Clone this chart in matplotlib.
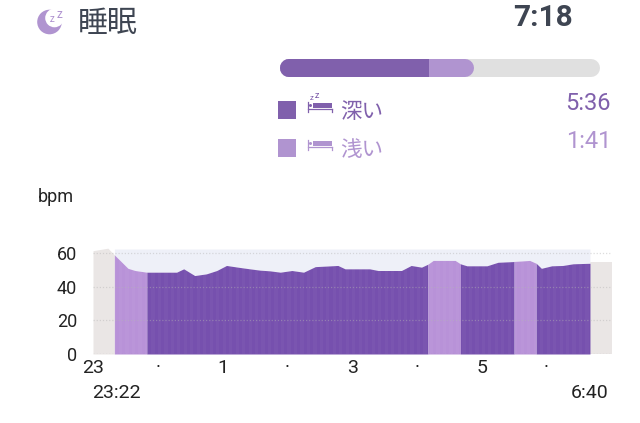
import numpy as np
import matplotlib
matplotlib.use('Agg')
import matplotlib.pyplot as plt
from matplotlib.patches import Circle, Rectangle

# heart rate (hours after 23:00, bpm)
hours = [0.33, 0.54, 0.65, 0.83, 1.29, 1.40, 1.57, 1.75, 1.91, 2.06, 2.27, 2.42, 2.58, 2.73,
         2.89, 3.07, 3.25, 3.43, 3.78, 3.89, 4.27, 4.40, 4.76, 4.91, 5.07, 5.17, 5.25, 5.59,
         5.67, 5.77, 6.08, 6.25, 6.48, 6.50, 6.74, 6.84, 6.92, 7.08, 7.25, 7.41, 7.67]
bpm = [59, 51, 49.7, 48.7, 48.7, 50.7, 46.7, 47.7, 49.7, 52.7, 51.5, 50.7, 49.9, 49.5,
       48.7, 49.7, 48.7, 52, 52.7, 50.7, 50.7, 49.7, 49.7, 52.7, 51.7, 53.5, 55.7, 55.7,
       53.7, 52.5, 52.5, 54.6, 55, 55.1, 55.7, 54, 51, 52.5, 52.7, 53.7, 54]

# stages: (start, end, kind)
stage_start = [0.33, 0.83, 5.17, 5.67, 6.50, 6.84]
stage_end = [0.83, 5.17, 5.67, 6.50, 6.84, 7.67]
stage_kind = ['light', 'deep', 'light', 'deep', 'light', 'deep']

# awake parts either side of the sleep
before_hours = [0, 0.23, 0.33]
before_bpm = [61.5, 63, 59]
after_hours = [7.67, 8.01]
after_bpm = [55, 55]
band_top = 62.5

hour_ticks = [0, 1, 2, 3, 4, 5, 6, 7]
hour_labels = ['23', '·', '1', '·', '3', '·', '5', '·']
bpm_ticks = [0, 20, 40, 60]
edge_hours = [0.367, 7.667]
edge_labels = ['23:22', '6:40']

deep_min = 336
light_min = 101
bar_max = 720

DEEP = '#7650AE'
LIGHT = '#B892D8'
DEEP_UI = '#8060AC'
LIGHT_UI = '#B094D0'
DARK = '#3E4552'
NUM = 'Roboto'
CJK = ['Noto Sans CJK JP', 'DejaVu Sans']

fig = plt.figure(figsize=(6.4, 4.23), dpi=100)

# everything outside the chart is placed in pixels
page = fig.add_axes([0, 0, 1, 1])
page.set_xlim(0, 640)
page.set_ylim(423, 0)
page.axis('off')

page.add_patch(Circle((49.5, 22), 12.3, color=LIGHT_UI, lw=0))
page.add_patch(Circle((54.5, 18), 9.3, color='white', lw=0))
page.text(52.5, 19, 'z', color=LIGHT_UI, fontsize=7, family=NUM, ha='center', va='center')
page.text(59.5, 14.5, 'z', color=LIGHT_UI, fontsize=8.5, family=NUM, ha='center', va='center')
page.text(78, 23.5, '睡眠', color=DARK, fontsize=21.5, family=CJK, va='center')
page.text(573, 18, '7:18', color=DARK, fontsize=21.5, family=NUM, weight='bold', ha='right', va='center')


def bed(y, color):
    page.plot([307.5, 307.5], [y, y + 10], color=color, lw=0.9)
    page.plot([307.5, 332], [y + 7.5, y + 7.5], color=color, lw=0.9)
    page.plot([332, 332], [y + 7.5, y + 10], color=color, lw=0.9)
    page.add_patch(Rectangle((313, y + 1), 19, 5, color=color, lw=0))
    page.add_patch(Circle((310.5, y + 3.5), 1.5, color=color, lw=0))


page.add_patch(Rectangle((278, 101), 18, 18, color=DEEP_UI, lw=0))
page.add_patch(Rectangle((278, 139), 18, 18, color=LIGHT_UI, lw=0))
bed(102, DEEP_UI)
bed(140, LIGHT_UI)
page.text(311, 98, 'z', color=DEEP_UI, fontsize=5.5, family=NUM, ha='center', va='center')
page.text(317, 96, 'z', color=DEEP_UI, fontsize=6.5, family=NUM, ha='center', va='center')
page.text(340, 112, '深い', color=DEEP_UI, fontsize=15.5, family=CJK, va='center')
page.text(340, 150, '浅い', color=LIGHT_UI, fontsize=15.5, family=CJK, va='center')
page.text(611, 104, '5:36', color=DEEP_UI, fontsize=17, family=NUM, ha='right', va='center')
page.text(611, 141, '1:41', color=LIGHT_UI, fontsize=17, family=NUM, ha='right', va='center')
page.text(38, 197, 'bpm', color='#222222', fontsize=13, family=NUM, va='center')

# progress bar, scaled in minutes
bar = fig.add_axes([280 / 640, 1 - 77 / 423, 320 / 640, 19 / 423])
bar.set_xlim(0, bar_max)
bar.set_ylim(-1, 1)
bar.axis('off')
cap = 20
bar_lw = 18 * 0.72
bar.plot([cap, bar_max - cap], [0, 0], color='#E0E0E0', lw=bar_lw, solid_capstyle='round')
bar.plot([cap, deep_min + light_min - cap], [0, 0], color=LIGHT_UI, lw=bar_lw, solid_capstyle='round')
deep_line, = bar.plot([cap, deep_min], [0, 0], color=DEEP_UI, lw=bar_lw, solid_capstyle='round')
deep_line.set_clip_path(Rectangle((0, -1), deep_min, 2, transform=bar.transData))

# heart rate chart
ax = fig.add_axes([93 / 640, 1 - 354 / 423, 519 / 640, (354 - 236.4) / 423])
ax.patch.set_alpha(0)
ax.set_xlim(0, 8.01)
ax.set_ylim(0, 70)
for s in ax.spines.values():
    s.set_visible(False)

hours = np.array(hours)
bpm = np.array(bpm)

ax.fill_between(before_hours, 0, before_bpm, color='#EAE6E5', lw=0, zorder=1)
ax.fill_between(after_hours, 0, after_bpm, color='#EAE6E5', lw=0, zorder=1)
ax.fill_between(hours, bpm, band_top, color='#EEF0F8', lw=0, zorder=1)

clip_polys = []
for start, end, kind in zip(stage_start, stage_end, stage_kind):
    mask = (hours >= start) & (hours <= end)
    color = DEEP if kind == 'deep' else LIGHT
    clip_polys.append(ax.fill_between(hours[mask], 0, bpm[mask], color=color, lw=0, zorder=2))

# faint vertical banding inside the filled area
step = 0.1
for x0 in np.arange(0, 8, step):
    for poly in clip_polys:
        sp = ax.axvspan(x0, x0 + step / 2, color='white', alpha=0.03, lw=0, zorder=2.5)
        sp.set_clip_path(poly.get_paths()[0], transform=ax.transData)

for y in bpm_ticks:
    ax.axhline(y, color='#8A8A8A' if y == 0 else '#B5B5B5', lw=0.9, ls=(0, (1, 1.5)), alpha=0.45, zorder=3)

ax.set_xticks(hour_ticks)
ax.set_xticklabels(hour_labels, fontsize=14, family=NUM, color='#222222')
ax.set_yticks(bpm_ticks)
ax.set_yticklabels(bpm_ticks, fontsize=13, family=NUM, color='#222222')
ax.tick_params(axis='x', length=0, pad=3.5)
ax.tick_params(axis='y', length=0, pad=11.5)

for x, label in zip(edge_hours, edge_labels):
    ax.annotate(label, (x, 0), xytext=(0, -28), textcoords='offset points', ha='center', va='center',
                fontsize=14, family=NUM, color='#222222', annotation_clip=False)

fig.savefig('out.png', dpi=100)
